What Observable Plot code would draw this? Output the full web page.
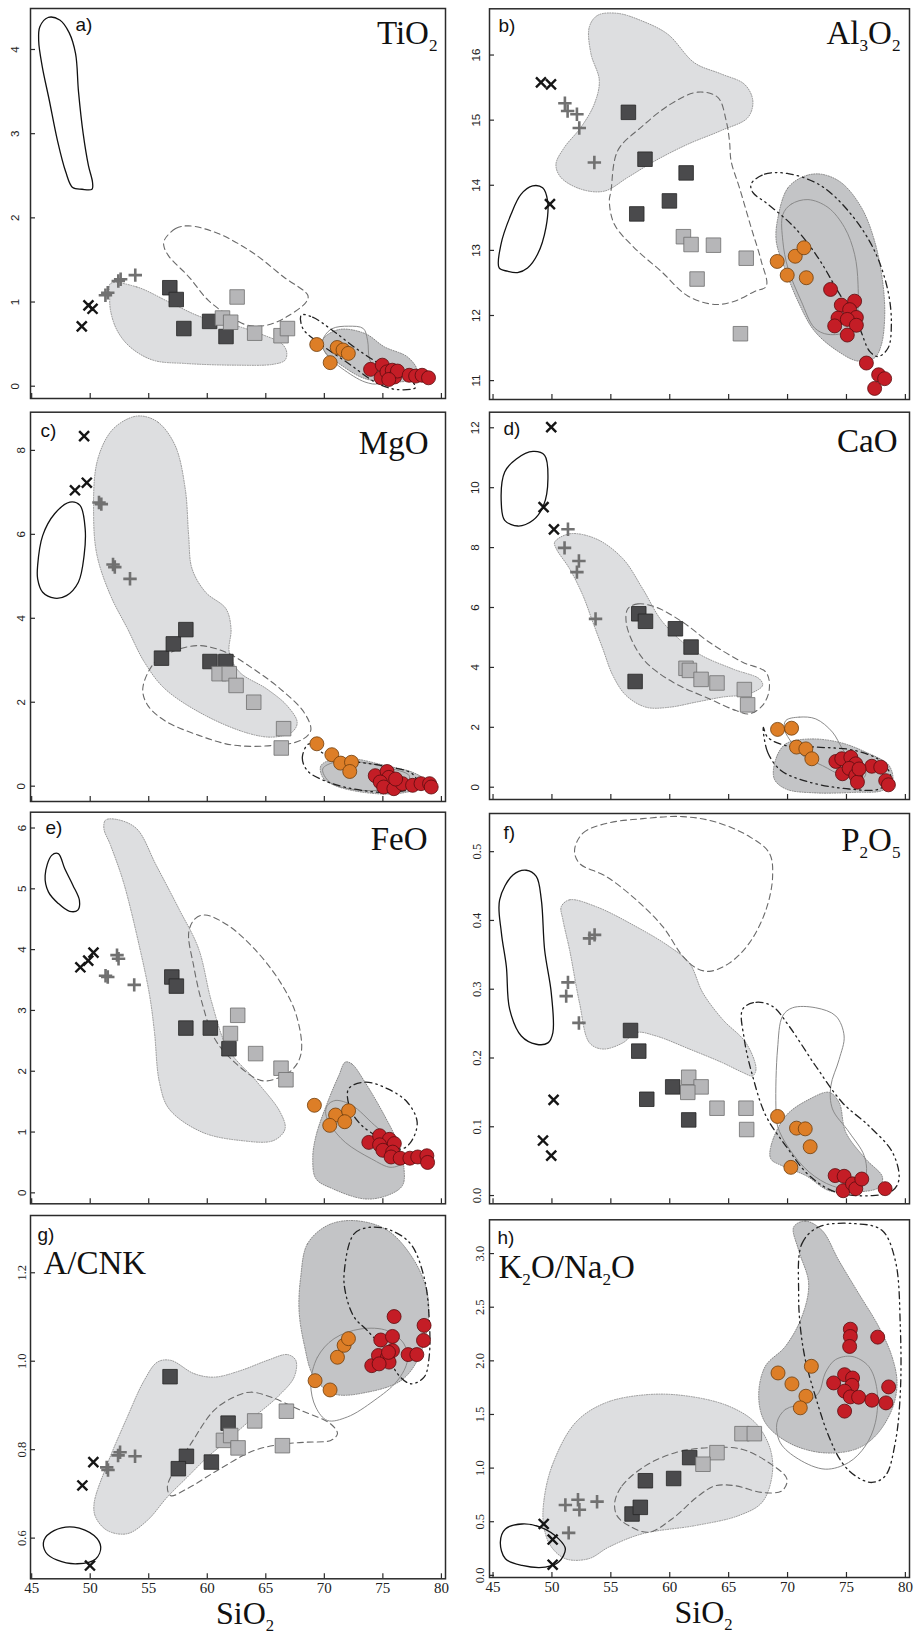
<!DOCTYPE html>
<html><head><meta charset="utf-8">
<script src="https://cdn.jsdelivr.net/npm/d3@7"></script>
<script src="https://cdn.jsdelivr.net/npm/@observablehq/plot@0.6"></script>
<style>
body{margin:0;background:#fff;}
#chart{position:relative;width:914px;height:1635px;overflow:hidden;background:#fff;}
#chart .cell{position:absolute;}
#chart svg{overflow:visible;}
</style></head><body><div id="chart"></div>
<script>
// ---------- shared ticks ----------
const siTicks = [45, 50, 55, 60, 65, 70, 75, 80];

// ---------- samples: [group, SiO2, value] ----------
// groups: x = crosses, p = plus, ds = dark squares, ls = light squares, o = orange circles, r = red circles
const tio2Samples = [
  ["x",49.28,0.71],["x",49.85,0.96],["x",50.2,0.92],
  ["p",51.3,1.08],["p",51.5,1.11],["p",52.4,1.25],["p",52.6,1.27],["p",53.85,1.32],
  ["ds",56.8,1.17],["ds",57.35,1.03],["ds",58.0,0.685],["ds",60.2,0.77],["ds",61.6,0.59],
  ["ls",62.55,1.06],["ls",61.3,0.81],["ls",62.0,0.76],["ls",64.05,0.63],["ls",66.3,0.6],["ls",66.85,0.685],
  ["o",69.35,0.495],["o",71.1,0.46],["o",71.6,0.43],["o",72.05,0.39],["o",70.5,0.28],
  ["r",73.95,0.2],["r",74.95,0.25],["r",74.85,0.1],["r",75.35,0.17],["r",75.8,0.19],["r",76.0,0.11],["r",76.25,0.18],["r",77.25,0.13],["r",77.8,0.12],["r",78.35,0.13],["r",78.9,0.1],["r",75.5,0.08]
];
const al2o3Samples = [
  ["x",49.07,15.58],["x",49.92,15.55],["x",49.83,13.71],
  ["p",51.1,15.26],["p",51.33,15.14],["p",52.12,15.09],["p",52.32,14.88],["p",53.6,14.35],
  ["ds",56.49,15.12],["ds",57.9,14.4],["ds",61.39,14.19],["ds",59.97,13.76],["ds",57.2,13.56],
  ["ls",61.16,13.21],["ls",61.81,13.09],["ls",63.71,13.08],["ls",66.49,12.88],["ls",62.32,12.56],["ls",66.0,11.72],
  ["o",69.12,12.83],["o",70.65,12.91],["o",71.39,13.04],["o",69.97,12.62],["o",71.59,12.58],
  ["r",73.65,12.4],["r",74.56,12.16],["r",75.69,12.22],["r",75.27,12.09],["r",75.84,11.97],["r",74.28,11.96],["r",75.07,11.94],["r",74.0,11.84],["r",75.84,11.85],["r",75.07,11.7],["r",76.69,11.27],["r",77.73,11.09],["r",78.24,11.03],["r",77.39,10.88]
];
const mgoSamples = [
  ["x",49.48,8.34],["x",48.7,7.05],["x",49.71,7.23],
  ["p",50.75,6.76],["p",50.95,6.72],["p",51.95,5.28],["p",52.1,5.22],["p",53.4,4.94],
  ["ds",56.09,3.05],["ds",57.1,3.39],["ds",58.17,3.73],["ds",60.23,2.97],["ds",61.59,2.97],
  ["ls",61.01,2.68],["ls",61.88,2.68],["ls",62.46,2.4],["ls",63.97,2.0],["ls",66.52,1.37],["ls",66.32,0.91],
  ["o",69.36,1.01],["o",70.64,0.75],["o",71.39,0.55],["o",72.32,0.57],["o",72.17,0.35],
  ["r",74.35,0.25],["r",75.36,0.35],["r",75.51,0.21],["r",74.78,0.1],["r",75.07,-0.02],["r",75.94,-0.06],["r",76.67,0.06],["r",77.54,0.02],["r",78.26,0.06],["r",78.99,0.06],["r",79.13,-0.02],["r",76.09,0.17]
];
const caoSamples = [
  ["x",49.94,12.02],["x",49.29,9.35],["x",50.17,8.61],
  ["p",51.36,8.61],["p",51.07,7.99],["p",52.29,7.55],["p",52.12,7.18],["p",53.7,5.62],
  ["ds",57.37,5.79],["ds",57.94,5.54],["ds",60.48,5.29],["ds",61.81,4.68],["ds",57.06,3.53],
  ["ls",61.38,3.97],["ls",61.67,3.9],["ls",62.66,3.6],["ls",64.01,3.48],["ls",66.33,3.26],["ls",66.61,2.75],
  ["o",69.15,1.93],["o",70.34,1.97],["o",70.76,1.34],["o",71.55,1.28],["o",72.06,0.95],
  ["r",74.1,0.86],["r",74.6,0.95],["r",75.37,1.0],["r",75.79,0.78],["r",74.66,0.45],["r",75.23,0.63],["r",75.79,0.39],["r",75.93,0.17],["r",77.15,0.7],["r",77.91,0.67],["r",78.33,0.22],["r",78.56,0.08],["r",76.07,0.61]
];
const feoSamples = [
  ["x",49.16,3.71],["x",49.83,3.82],["x",50.28,3.95],
  ["p",51.31,3.57],["p",51.5,3.55],["p",52.29,3.91],["p",52.42,3.85],["p",53.76,3.42],
  ["ds",56.97,3.55],["ds",57.36,3.4],["ds",58.17,2.71],["ds",60.26,2.71],["ds",61.85,2.37],
  ["ls",62.6,2.92],["ls",61.98,2.62],["ls",64.13,2.29],["ls",66.3,2.05],["ls",66.72,1.86],
  ["o",69.15,1.44],["o",70.96,1.28],["o",72.07,1.35],["o",71.74,1.17],["o",70.46,1.11],
  ["r",73.8,0.83],["r",74.72,0.94],["r",75.56,0.88],["r",75.98,0.81],["r",74.72,0.79],["r",75.0,0.7],["r",75.84,0.67],["r",75.7,0.59],["r",76.48,0.57],["r",77.31,0.57],["r",77.98,0.59],["r",78.76,0.61],["r",78.82,0.5]
];
const p2o5Samples = [
  ["x",50.14,0.139],["x",49.24,0.08],["x",49.94,0.058],
  ["p",53.19,0.374],["p",53.62,0.379],["p",51.36,0.31],["p",51.21,0.29],["p",52.29,0.251],
  ["ds",56.67,0.24],["ds",57.37,0.21],["ds",60.25,0.158],["ds",58.05,0.14],["ds",61.61,0.11],
  ["ls",61.61,0.172],["ls",62.66,0.158],["ls",61.53,0.15],["ls",64.01,0.127],["ls",66.47,0.127],["ls",66.53,0.096],
  ["o",69.15,0.115],["o",70.76,0.098],["o",71.5,0.097],["o",71.92,0.071],["o",70.28,0.041],
  ["r",74.04,0.029],["r",74.8,0.028],["r",74.72,0.007],["r",75.51,0.017],["r",75.79,0.01],["r",76.3,0.024],["r",78.28,0.01]
];
const acnkSamples = [
  ["x",49.33,0.719],["x",50.27,0.772],["x",49.98,0.538],
  ["p",51.41,0.76],["p",51.52,0.754],["p",52.38,0.787],["p",52.55,0.794],["p",53.83,0.785],
  ["ds",56.82,0.965],["ds",58.22,0.785],["ds",57.53,0.757],["ds",60.35,0.772],["ds",61.78,0.86],
  ["ls",61.38,0.821],["ls",62.0,0.832],["ls",62.63,0.804],["ls",64.05,0.865],["ls",66.76,0.887],["ls",66.42,0.809],
  ["o",69.21,0.956],["o",70.49,0.935],["o",71.12,1.009],["o",71.69,1.036],["o",72.06,1.051],
  ["r",75.96,1.101],["r",74.82,1.048],["r",75.82,1.056],["r",78.52,1.081],["r",78.47,1.047],["r",74.05,0.99],["r",74.62,1.013],["r",75.39,1.009],["r",75.53,0.998],["r",75.82,1.024],["r",75.48,1.02],["r",77.16,1.015],["r",77.9,1.015],["r",74.68,0.994]
];
const kNaSamples = [
  ["x",49.3,0.479],["x",50.06,0.334],["x",50.06,0.099],
  ["p",51.14,0.656],["p",52.21,0.705],["p",52.33,0.612],["p",53.83,0.687],["p",51.42,0.396],
  ["ds",56.8,0.572],["ds",57.5,0.634],["ds",57.93,0.882],["ds",60.33,0.903],["ds",61.69,1.098],
  ["ls",66.13,1.321],["ls",67.18,1.321],["ls",64.01,1.144],["ls",62.82,1.036],
  ["o",69.19,1.887],["o",70.37,1.785],["o",72.02,1.949],["o",71.56,1.67],["o",71.08,1.562],
  ["r",75.33,2.295],["r",75.33,2.227],["r",75.27,2.134],["r",77.65,2.221],["r",73.91,1.794],["r",74.84,1.871],["r",75.52,1.84],["r",75.47,1.772],["r",74.84,1.717],["r",75.33,1.664],["r",76.03,1.661],["r",77.16,1.633],["r",78.35,1.608],["r",78.58,1.757],["r",74.84,1.531]
];

// ---------- comparison fields: outline vertices [SiO2, value] ----------
// A = solid black, B = light grey filled, C = dashed, D = dark grey filled, E = thin grey, F = dash-dot
const tio2FieldA = [[45.7,4.27],[46.4,4.38],[47.4,4.35],[48.2,4.2],[48.75,3.95],[49.0,3.5],[49.4,3.0],[49.85,2.62],[50.2,2.42],[50.15,2.34],[49.3,2.34],[48.5,2.36],[47.9,2.55],[47.2,2.92],[46.5,3.4],[45.9,3.8],[45.6,4.1]];
const tio2FieldB = [[51.73,1.22],[53.96,1.18],[56.74,1.0],[59.53,0.82],[62.32,0.725],[64.83,0.606],[66.36,0.507],[66.78,0.408],[66.64,0.309],[65.66,0.261],[62.32,0.25],[58.14,0.27],[55.35,0.31],[53.4,0.467],[52.29,0.665],[51.73,0.903],[51.67,1.1]];
const tio2FieldC = [[56.33,1.735],[57.3,1.873],[58.42,1.905],[60.93,1.814],[63.99,1.576],[66.5,1.3],[68.59,1.08],[68.45,1.0],[66.78,0.824],[65.11,0.725],[63.43,0.725],[62.04,0.82],[60.09,1.02],[58.42,1.3],[56.74,1.54],[56.3,1.66]];
const tio2FieldD = [[69.84,0.547],[71.24,0.673],[73.47,0.626],[75.14,0.467],[77.09,0.349],[77.93,0.19],[77.65,0.09],[76.25,0.05],[73.47,0.09],[71.24,0.269],[70.12,0.388]];
const tio2FieldE = [[69.98,0.586],[70.68,0.685],[72.07,0.713],[73.33,0.685],[73.69,0.547],[73.89,0.309],[74.86,0.111],[74.58,0.032],[73.47,0.05],[71.52,0.21],[70.4,0.349],[69.84,0.467]];
const tio2FieldF = [[68.03,0.845],[69.0,0.82],[70.68,0.665],[72.9,0.43],[75.14,0.23],[77.37,0.07],[77.79,-0.016],[76.25,-0.04],[74.58,0.03],[72.07,0.27],[69.57,0.51],[68.17,0.685]];

const al2o3FieldA = [[45.52,12.73],[45.67,13.09],[46.52,13.55],[47.37,13.86],[48.36,13.99],[49.21,13.96],[49.63,13.76],[49.49,13.35],[48.78,12.94],[47.93,12.73],[47.08,12.66],[46.23,12.68]];
const al2o3FieldB = [[53.17,16.43],[53.88,16.61],[55.58,16.64],[57.56,16.53],[59.83,16.32],[62.1,15.88],[64.36,15.71],[66.35,15.55],[67.05,15.3],[66.63,15.04],[64.36,14.84],[61.53,14.63],[58.7,14.37],[56.43,14.12],[54.45,13.91],[52.46,13.94],[50.76,14.12],[50.34,14.32],[51.05,14.58],[52.46,14.89],[53.6,15.25],[54.02,15.61],[53.31,16.02]];
const al2o3FieldC = [[55.01,13.91],[55.58,14.53],[57.56,14.89],[60.11,15.25],[62.38,15.43],[64.08,15.35],[64.79,14.99],[65.07,14.68],[65.21,14.37],[65.92,13.96],[66.91,13.35],[67.76,12.84],[68.19,12.45],[67.2,12.37],[65.5,12.22],[63.8,12.17],[61.53,12.3],[59.26,12.68],[56.99,13.04],[55.3,13.4],[54.87,13.76]];
const al2o3FieldD = [[69.18,13.5],[70.03,13.96],[71.44,14.14],[72.86,14.17],[74.56,14.04],[76.26,13.66],[77.39,13.14],[78.1,12.48],[78.24,11.96],[77.96,11.55],[77.39,11.35],[75.98,11.3],[74.28,11.45],[72.29,11.76],[70.88,12.22],[69.75,12.73],[69.04,13.14]];
const al2o3FieldE = [[69.6,13.55],[70.31,13.71],[71.73,13.78],[73.43,13.66],[74.84,13.35],[75.69,12.94],[75.98,12.48],[75.84,11.96],[75.13,11.76],[73.43,11.71],[72.29,11.81],[71.16,12.22],[70.03,12.73],[69.6,13.14]];
const al2o3FieldF = [[66.91,14.02],[68.05,14.17],[70.03,14.18],[72.86,13.99],[75.41,13.55],[77.39,12.99],[78.53,12.37],[78.81,11.86],[78.53,11.5],[77.68,11.37],[76.97,11.45],[75.98,11.86],[74.28,12.37],[72.58,12.89],[70.6,13.35],[68.33,13.71],[67.05,13.89]];

const mgoFieldA = [[45.51,5.26],[45.94,5.97],[46.96,6.49],[48.26,6.77],[49.13,6.69],[49.57,6.13],[49.48,5.5],[48.99,4.86],[47.97,4.54],[46.96,4.48],[45.94,4.62],[45.51,4.94]];
const mgoFieldB = [[54.35,8.82],[55.8,8.67],[57.25,8.12],[58.12,7.08],[58.41,5.97],[58.7,5.18],[59.86,4.62],[61.59,4.23],[62.03,3.75],[61.88,3.19],[62.75,2.72],[65.07,2.32],[66.81,1.92],[67.68,1.52],[67.25,1.29],[65.65,1.17],[63.62,1.25],[59.86,1.68],[56.38,2.32],[54.64,2.95],[53.19,3.75],[51.74,4.54],[50.58,5.5],[50.29,6.45],[50.58,7.72],[51.74,8.44],[53.19,8.75]];
const mgoFieldC = [[54.49,2.32],[55.51,2.95],[57.25,3.23],[59.28,3.35],[61.59,3.19],[63.91,2.8],[66.23,2.32],[68.26,1.76],[68.84,1.33],[67.97,1.09],[65.65,0.97],[62.17,0.98],[59.28,1.21],[56.38,1.56],[54.93,1.92]];
const mgoFieldD = [[69.71,0.49],[70.87,0.65],[72.61,0.65],[75.22,0.49],[77.54,0.33],[78.41,0.17],[77.83,-0.06],[76.09,-0.18],[73.19,-0.14],[70.87,0.02],[69.86,0.21]];
const mgoFieldE = [[69.86,0.41],[70.87,0.57],[73.19,0.57],[75.22,0.45],[77.25,0.25],[76.96,0.02],[74.64,-0.1],[72.03,-0.06],[70.43,0.1]];
const mgoFieldF = [[68.7,1.01],[68.12,0.69],[68.55,0.37],[70.29,0.1],[73.19,-0.1],[76.09,-0.14],[77.97,0.02],[77.54,0.29],[74.93,0.49],[72.03,0.61],[70.0,0.77]];

const caoFieldA = [[45.71,9.41],[45.99,10.52],[46.98,10.96],[48.39,11.21],[49.38,11.08],[49.66,10.3],[49.29,9.41],[48.39,8.91],[47.12,8.72],[45.99,8.91]];
const caoFieldB = [[50.23,8.18],[51.5,8.46],[53.76,8.29],[56.02,7.63],[57.71,6.62],[59.41,5.51],[62.23,4.51],[65.34,3.95],[67.6,3.62],[67.88,3.4],[66.75,3.12],[64.49,3.01],[62.23,2.84],[59.97,2.67],[57.99,2.67],[56.3,3.06],[55.17,3.73],[54.32,4.62],[53.47,5.51],[52.63,6.4],[51.5,7.29],[50.37,7.96]];
const caoFieldC = [[56.44,5.96],[57.29,6.12],[58.84,6.01],[61.1,5.51],[63.36,4.84],[66.19,4.17],[68.16,3.84],[68.45,3.28],[67.88,2.73],[66.75,2.45],[65.62,2.56],[63.36,2.95],[60.25,3.51],[57.99,4.17],[56.86,4.84],[56.3,5.51]];
const caoFieldD = [[69.01,0.95],[69.86,1.45],[71.84,1.61],[74.38,1.5],[76.64,1.17],[78.62,0.72],[78.9,0.17],[78.05,-0.11],[75.79,-0.17],[72.4,-0.19],[69.86,-0.06],[68.87,0.28]];
const caoFieldE = [[69.86,2.23],[70.99,2.34],[72.4,2.28],[73.81,1.84],[74.66,1.28],[75.51,0.83],[76.64,0.5],[76.36,0.28],[74.66,0.39],[72.97,0.72],[71.27,1.06],[70.14,1.61],[69.72,1.95]];
const caoFieldF = [[67.94,2.0],[68.31,1.17],[69.44,0.56],[71.84,0.17],[75.23,-0.06],[77.77,-0.06],[78.76,0.28],[78.05,0.83],[75.79,1.22],[72.4,1.34],[69.86,1.39],[68.31,1.67]];

const feoFieldA = [[46.15,5.22],[46.71,5.55],[47.27,5.58],[47.83,5.33],[48.52,5.06],[49.08,4.81],[48.94,4.65],[48.24,4.63],[47.27,4.76],[46.43,4.95]];
const feoFieldB = [[51.31,6.13],[52.29,6.14],[53.96,5.99],[55.63,5.39],[57.58,4.67],[59.25,4.02],[60.37,3.14],[61.76,2.37],[64.27,1.82],[66.22,1.33],[66.64,1.05],[65.66,0.86],[62.88,0.86],[59.53,1.0],[56.74,1.38],[55.91,1.82],[55.49,2.64],[55.07,3.25],[54.24,4.02],[52.84,5.11],[51.73,5.72],[51.17,5.99]];
const feoFieldC = [[58.42,4.29],[58.97,4.51],[59.81,4.57],[61.76,4.4],[63.99,4.02],[66.22,3.47],[67.61,2.92],[68.03,2.31],[67.34,2.04],[65.94,1.88],[64.55,1.85],[62.32,2.15],[60.65,2.53],[59.53,3.14],[58.83,3.74]];
const feoFieldD = [[71.79,2.15],[72.35,2.12],[73.47,1.82],[75.14,1.27],[76.25,0.83],[76.81,0.39],[76.67,0.12],[75.42,-0.04],[73.47,-0.1],[70.68,0.07],[69.29,0.23],[69.01,0.56],[69.29,0.94],[70.4,1.55],[71.24,1.93]];
const feoFieldE = [[70.26,1.44],[70.96,1.52],[72.35,1.44],[74.3,1.11],[76.25,0.78],[76.67,0.5],[75.7,0.42],[74.02,0.56],[71.79,0.83],[70.54,1.11],[70.12,1.3]];
const feoFieldF = [[72.07,1.71],[73.47,1.82],[75.42,1.71],[77.09,1.49],[77.93,1.16],[77.37,0.83],[76.53,0.72],[74.86,0.89],[73.19,1.11],[72.21,1.38]];

const p2o5FieldA = [[45.56,0.43],[46.69,0.466],[47.82,0.473],[48.67,0.464],[49.1,0.43],[49.38,0.357],[49.94,0.295],[50.08,0.237],[49.66,0.222],[48.67,0.22],[47.4,0.232],[46.41,0.271],[46.13,0.333],[45.71,0.382]];
const p2o5FieldB = [[50.79,0.42],[51.5,0.43],[53.76,0.42],[57.15,0.391],[59.97,0.362],[61.67,0.338],[62.8,0.295],[64.49,0.256],[66.47,0.222],[67.32,0.184],[67.03,0.174],[66.19,0.179],[64.49,0.193],[61.67,0.213],[58.84,0.232],[57.15,0.237],[56.02,0.222],[54.32,0.213],[53.19,0.222],[52.34,0.28],[51.5,0.357],[50.93,0.401]];
const p2o5FieldC = [[51.92,0.502],[52.63,0.527],[54.6,0.541],[57.71,0.548],[61.1,0.551],[63.93,0.543],[66.75,0.522],[68.45,0.498],[68.73,0.464],[68.16,0.415],[66.75,0.367],[65.06,0.338],[63.36,0.326],[62.23,0.331],[61.1,0.348],[59.41,0.391],[57.15,0.43],[54.6,0.464],[52.34,0.483]];
const p2o5FieldD = [[68.59,0.072],[69.86,0.116],[71.84,0.14],[73.53,0.15],[74.38,0.135],[74.94,0.092],[76.64,0.053],[78.05,0.027],[77.77,0.012],[75.79,0.005],[73.53,0.007],[71.55,0.029],[69.58,0.043],[68.59,0.053]];
const p2o5FieldE = [[69.01,0.13],[69.15,0.213],[69.58,0.261],[70.42,0.273],[72.4,0.273],[74.1,0.261],[74.8,0.232],[74.38,0.198],[73.67,0.159],[73.81,0.126],[75.23,0.092],[76.5,0.058],[76.64,0.029],[75.79,0.01],[73.81,0.014],[71.84,0.034],[70.14,0.068],[69.15,0.101]];
const p2o5FieldF = [[66.19,0.271],[67.32,0.281],[68.73,0.275],[70.14,0.246],[72.4,0.188],[74.66,0.135],[76.92,0.101],[78.9,0.063],[79.46,0.024],[78.9,0.007],[77.2,0.0],[74.1,0.005],[71.84,0.029],[69.86,0.072],[68.16,0.116],[67.03,0.174],[66.33,0.227]];

const acnkFieldA = [[46.05,0.595],[46.91,0.617],[48.62,0.625],[50.33,0.606],[50.9,0.58],[50.47,0.553],[48.9,0.542],[47.19,0.55],[46.2,0.568]];
const acnkFieldB = [[50.33,0.678],[51.47,0.768],[53.17,0.874],[54.6,0.956],[55.74,0.998],[56.88,1.002],[58.87,0.972],[60.58,0.964],[62.86,0.979],[65.14,1.002],[66.85,1.015],[67.56,1.002],[67.42,0.964],[65.99,0.919],[63.99,0.874],[61.72,0.821],[60.01,0.783],[58.3,0.738],[56.59,0.693],[54.88,0.64],[53.17,0.61],[51.47,0.617],[50.47,0.647]];
const acnkFieldC = [[56.59,0.715],[57.16,0.753],[58.59,0.813],[60.58,0.889],[62.29,0.919],[63.71,0.93],[65.42,0.919],[67.98,0.889],[70.55,0.858],[71.12,0.836],[70.55,0.821],[68.55,0.817],[66.56,0.813],[63.99,0.798],[60.86,0.753],[58.3,0.712],[56.88,0.696]];
const acnkFieldD = [[67.98,1.19],[68.55,1.265],[70.26,1.307],[72.54,1.318],[75.39,1.296],[77.67,1.228],[78.81,1.152],[78.81,1.077],[77.95,1.002],[76.53,0.956],[73.68,0.93],[70.83,0.926],[69.12,0.964],[68.27,1.039],[67.84,1.115]];
const acnkFieldE = [[68.84,0.949],[69.41,1.009],[70.83,1.051],[73.11,1.073],[75.39,1.069],[76.81,1.039],[77.1,1.002],[76.24,0.956],[74.25,0.911],[71.97,0.874],[70.26,0.866],[69.27,0.896]];
const acnkFieldF = [[71.69,1.198],[72.54,1.288],[73.97,1.303],[75.68,1.296],[77.38,1.265],[78.52,1.19],[78.95,1.1],[78.95,1.009],[78.52,0.964],[77.38,0.949],[76.24,0.972],[75.39,1.017],[73.68,1.069],[72.54,1.1],[71.83,1.152]];

const kNaFieldA = [[45.62,0.309],[46.05,0.433],[47.46,0.479],[49.02,0.449],[50.57,0.34],[51.14,0.247],[50.57,0.124],[49.44,0.077],[47.46,0.093],[46.05,0.155]];
const kNaFieldB = [[49.3,0.68],[50.01,1.021],[51.99,1.423],[54.53,1.608],[58.21,1.686],[61.61,1.67],[65.0,1.578],[67.26,1.423],[68.54,1.175],[68.68,0.928],[67.83,0.68],[65.85,0.557],[62.17,0.464],[57.65,0.387],[54.82,0.263],[53.12,0.155],[51.14,0.155],[49.87,0.278],[49.3,0.464]];
const kNaFieldC = [[55.33,0.68],[55.95,0.835],[57.93,1.021],[60.47,1.144],[63.3,1.191],[66.13,1.175],[68.39,1.052],[69.95,0.897],[69.53,0.789],[67.83,0.773],[65.57,0.835],[63.87,0.835],[62.45,0.742],[60.19,0.526],[58.21,0.402],[56.51,0.464],[55.52,0.557]];
const kNaFieldD = [[70.52,3.248],[71.51,3.303],[72.92,3.217],[74.34,2.938],[76.03,2.629],[77.73,2.32],[78.86,2.041],[79.29,1.794],[78.86,1.547],[77.45,1.299],[75.75,1.175],[72.92,1.144],[70.09,1.237],[68.11,1.423],[67.55,1.67],[68.11,1.949],[69.81,2.134],[71.22,2.413],[71.79,2.722],[70.94,3.031]];
const kNaFieldE = [[69.1,1.423],[69.81,1.547],[71.51,1.608],[72.64,1.701],[73.2,1.887],[74.05,2.01],[75.47,2.041],[76.88,1.949],[77.59,1.732],[77.45,1.423],[76.6,1.206],[75.18,1.052],[73.2,0.99],[70.94,1.083],[69.38,1.237]];
const kNaFieldF = [[70.94,2.629],[71.22,3.093],[72.64,3.248],[75.75,3.279],[78.01,3.217],[79.14,2.938],[79.57,2.32],[79.57,1.701],[79.14,1.237],[78.3,0.928],[77.16,0.866],[75.75,0.928],[74.62,1.052],[73.49,1.299],[72.36,1.67],[71.51,2.01],[71.08,2.32]];

// ---------- styles ----------
const SERIF = "Liberation Serif, 'Times New Roman', serif";
const SANS = "Liberation Sans, Arial, sans-serif";
const groupStyle = {
  x:  {symbol: "times",  r: 4.6, fill: "none", stroke: "#151515", strokeWidth: 2.4},
  p:  {symbol: "plus",   r: 4.4, fill: "none", stroke: "#717171", strokeWidth: 2.6},
  ds: {symbol: "square", r: 8.2, fill: "#4a4a4c", stroke: "#262626", strokeWidth: 0.8},
  ls: {symbol: "square", r: 8.2, fill: "#b6b6b8", stroke: "#6e6e6e", strokeWidth: 0.8},
  o:  {symbol: "circle", r: 7.0, fill: "#dd7e27", stroke: "#6e3d0c", strokeWidth: 0.8},
  r:  {symbol: "circle", r: 7.0, fill: "#c41d26", stroke: "#5a0c0f", strokeWidth: 0.8}
};
const fieldStyle = {
  A: {fill: "none", stroke: "#111", strokeWidth: 1.3},
  B: {fill: "#dddee0", stroke: "#8c8c8c", strokeWidth: 0.9, strokeDasharray: "1,1.5"},
  C: {fill: "none", stroke: "#6a6a6a", strokeWidth: 1.1, strokeDasharray: "6,4"},
  D: {fill: "#c3c4c6", stroke: "#7c7c7c", strokeWidth: 0.9, strokeDasharray: "1,1.5"},
  E: {fill: "none", stroke: "#8a8a8a", strokeWidth: 1},
  F: {fill: "none", stroke: "#222", strokeWidth: 1.3, strokeDasharray: "7,4,1.5,4,1.5,4"}
};

// ---------- panel layout ----------
const panels = [
  {letter: "a)", title: "TiO_2", samples: tio2Samples, fields: {A: tio2FieldA, B: tio2FieldB, C: tio2FieldC, D: tio2FieldD, E: tio2FieldE, F: tio2FieldF},
   col: 0, top: 0, h: 405, mt: 8, mb: 7, yDomain: [-0.146, 4.487], yTicks: [0,1,2,3,4], fmt: "d", serif: false, pad: 12, ldx: 45, ldy: 22, tdx: -8, tdy: 35},
  {letter: "b)", title: "Al_3O_2", samples: al2o3Samples, fields: {A: al2o3FieldA, B: al2o3FieldB, C: al2o3FieldC, D: al2o3FieldD, E: al2o3FieldE, F: al2o3FieldF},
   col: 1, top: 0, h: 405, mt: 8.3, mb: 6, yDomain: [10.71, 16.71], yTicks: [11,12,13,14,15,16], fmt: "d", serif: false, pad: 10, ldx: 9, ldy: 23, tdx: -9, tdy: 35},
  {letter: "c)", title: "MgO", samples: mgoSamples, fields: {A: mgoFieldA, B: mgoFieldB, C: mgoFieldC, D: mgoFieldD, E: mgoFieldE, F: mgoFieldF},
   col: 0, top: 405, h: 405, mt: 6.7, mb: 9, yDomain: [-0.365, 8.91], yTicks: [0,2,4,6,8], fmt: "d", serif: false, pad: 6, ldx: 10, ldy: 25, tdx: -17, tdy: 42},
  {letter: "d)", title: "CaO", samples: caoSamples, fields: {A: caoFieldA, B: caoFieldB, C: caoFieldC, D: caoFieldD, E: caoFieldE, F: caoFieldF},
   col: 1, top: 405, h: 405, mt: 6.7, mb: 11, yDomain: [-0.41, 12.52], yTicks: [0,2,4,6,8,10,12], fmt: "d", serif: false, pad: 11, ldx: 14, ldy: 23, tdx: -12, tdy: 40},
  {letter: "e)", title: "FeO", samples: feoSamples, fields: {A: feoFieldA, B: feoFieldB, C: feoFieldC, D: feoFieldD, E: feoFieldE, F: feoFieldF},
   col: 0, top: 810, h: 400, mt: 1.7, mb: 6.7, yDomain: [-0.18, 6.26], yTicks: [0,1,2,3,4,5,6], fmt: "d", serif: false, pad: 5, ldx: 15, ldy: 22, tdx: -18, tdy: 38},
  {letter: "f)", title: "P_2O_5", samples: p2o5Samples, fields: {A: p2o5FieldA, B: p2o5FieldB, C: p2o5FieldC, D: p2o5FieldD, E: p2o5FieldE, F: p2o5FieldF},
   col: 1, top: 810, h: 400, mt: 3, mb: 6.7, yDomain: [-0.012, 0.5555], yTicks: [0,0.1,0.2,0.3,0.4,0.5], fmt: ".1f", serif: true, pad: 9, ldx: 14, ldy: 25, tdx: -9, tdy: 37},
  {letter: "g)", title: "A/CNK", samples: acnkSamples, fields: {A: acnkFieldA, B: acnkFieldB, C: acnkFieldC, D: acnkFieldD, E: acnkFieldE, F: acnkFieldF},
   col: 0, top: 1210, h: 425, mt: 5, mb: 56.7, yDomain: [0.508, 1.3295], yTicks: [0.6,0.8,1.0,1.2], fmt: ".1f", serif: true, pad: 5, ldx: 7, ldy: 25, titleLeft: true, tdx: 13, tdy: 58, xLabels: true, sdx: 7, sdy: 45},
  {letter: "h)", title: "K_2O/Na_2O", samples: kNaSamples, fields: {A: kNaFieldA, B: kNaFieldB, C: kNaFieldC, D: kNaFieldD, E: kNaFieldE, F: kNaFieldF},
   col: 1, top: 1210, h: 425, mt: 9.3, mb: 58, yDomain: [-0.02, 3.315], yTicks: [0,0.5,1,1.5,2,2.5,3], fmt: ".1f", serif: true, pad: 6, ldx: 8, ldy: 24, titleLeft: true, tdx: 9, tdy: 58, xLabels: true, sdx: 4, sdy: 45}
];

// turn "TiO_2" style markup into tspans with subscripts
function applySubscripts(root) {
  root.querySelectorAll("text").forEach(t => {
    const s = t.textContent;
    if (!s.includes("_")) return;
    const fs = parseFloat(getComputedStyle(t).fontSize) || 33;
    const shift = fs * 0.23, sub = fs * 0.52;
    t.textContent = "";
    const parts = s.split(/_(\d)/);
    let down = false;
    parts.forEach((p, i) => {
      if (!p) return;
      const ts = document.createElementNS("http://www.w3.org/2000/svg", "tspan");
      ts.textContent = p;
      if (i % 2 === 1) { ts.setAttribute("font-size", sub); ts.setAttribute("dy", shift); down = true; }
      else if (down) { ts.setAttribute("dy", -shift); down = false; }
      t.appendChild(ts);
    });
  });
}

const chart = document.getElementById("chart");
for (const p of panels) {
  const W = 457;
  const ml = p.col === 0 ? 30 : 32, mr = p.col === 0 ? 12 : 5;
  const fw = W - ml - mr, fh = p.h - p.mt - p.mb;
  const xDomain = p.col === 0 ? [44.9, 80.35] : [44.7, 80.35];
  const marks = [];
  for (const k of ["B", "D", "A", "C", "E", "F"]) {
    if (p.fields[k]) marks.push(Plot.line(p.fields[k], {x: d => d[0], y: d => d[1], curve: "catmull-rom-closed", ...fieldStyle[k]}));
  }
  for (const g of ["x", "p", "ds", "ls", "o", "r"]) {
    marks.push(Plot.dot(p.samples.filter(d => d[0] === g), {x: d => d[1], y: d => d[2], ...groupStyle[g]}));
  }
  marks.push(Plot.tickY(p.yTicks, {y: d => d, stroke: "#2b2b2b", strokeWidth: 1.2, insetRight: fw - 5}));
  marks.push(Plot.tickX(siTicks, {x: d => d, stroke: "#2b2b2b", strokeWidth: 1.2, insetTop: fh - 5}));
  marks.push(Plot.axisY(p.yTicks, {tickRotate: -90, tickSize: 0, tickPadding: p.pad, fontSize: p.serif ? 12.5 : 11.5,
    fontFamily: p.serif ? SERIF : SANS, fill: "#222", label: null, tickFormat: d3.format(p.fmt)}));
  if (p.xLabels) {
    marks.push(Plot.axisX(siTicks, {tickSize: 0, tickPadding: 4, fontSize: 15, fontFamily: SERIF, fill: "#222", label: null, tickFormat: d3.format("d")}));
    marks.push(Plot.text(["SiO_2"], {text: d => d, frameAnchor: "bottom", dx: p.sdx, dy: p.sdy, lineAnchor: "bottom", fontSize: 32, fontFamily: SERIF, fill: "#111"}));
  }
  marks.push(Plot.frame({stroke: "#2b2b2b", strokeWidth: 1.5}));
  marks.push(Plot.text([p.letter], {text: d => d, frameAnchor: "top-left", dx: p.ldx, dy: p.ldy, lineAnchor: "bottom", textAnchor: "start", fontSize: 19, fontFamily: SANS, fill: "#111"}));
  marks.push(Plot.text([p.title], {text: d => d, frameAnchor: p.titleLeft ? "top-left" : "top-right", textAnchor: p.titleLeft ? "start" : "end",
    dx: p.tdx, dy: p.tdy, lineAnchor: "bottom", fontSize: 33, fontFamily: SERIF, fill: "#111"}));

  const svg = Plot.plot({
    width: W, height: p.h,
    marginLeft: ml, marginRight: mr, marginTop: p.mt, marginBottom: p.mb,
    x: {domain: xDomain, axis: null},
    y: {domain: p.yDomain, axis: null},
    style: {fontFamily: SANS, fontSize: "12px", background: "transparent", overflow: "visible"},
    marks
  });
  const cell = document.createElement("div");
  cell.className = "cell";
  cell.style.left = (p.col === 0 ? 0 : 457) + "px";
  cell.style.top = p.top + "px";
  cell.appendChild(svg);
  chart.appendChild(cell);
  applySubscripts(svg);
}
</script></body></html>
